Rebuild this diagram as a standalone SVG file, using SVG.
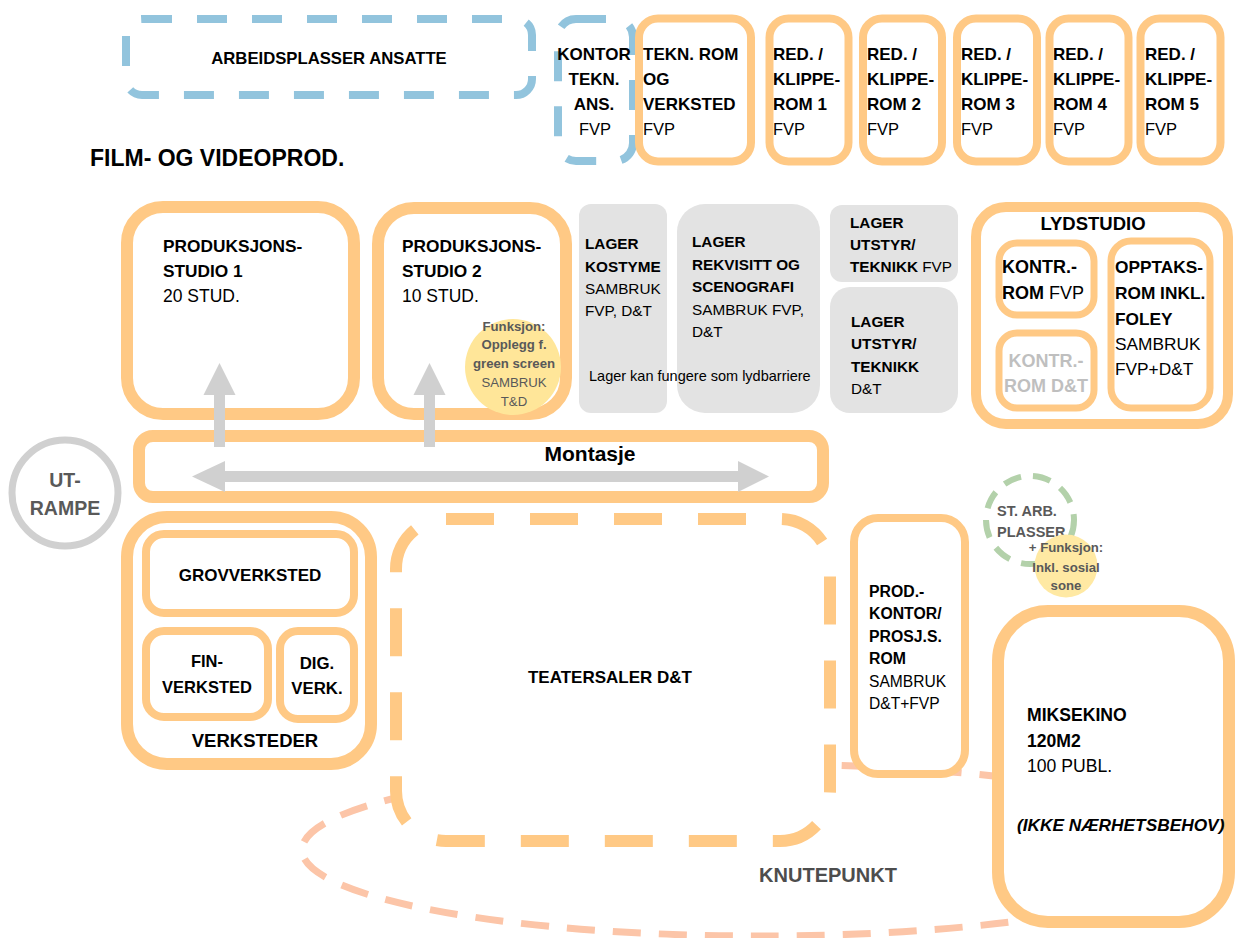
<svg xmlns="http://www.w3.org/2000/svg" width="1241" height="938" viewBox="0 0 1241 938">
<style>
text { font-family: "Liberation Sans", Arial, sans-serif; fill: #000; }
.b { font-weight: bold; }
.r { font-weight: normal; }
.or { fill: #fff; stroke: #ffc985; }
.o8 { stroke-width: 8; }
.o12 { stroke-width: 12; }
.o10 { stroke-width: 10; }
.o7 { stroke-width: 7; }
.blue { fill: #fff; stroke: #92c4dd; stroke-width: 8; stroke-dasharray: 30 25; }
.lager { fill: #e3e3e3; stroke: none; }
.gray { fill: #595959; }
.arr { fill: #d0d0d0; }
.s17 { font-size: 17px; }
.s16 { font-size: 16.5px; }
.s15 { font-size: 15.3px; }
.s13 { font-size: 13.2px; }
</style>

<g id="knutepunkt">
  <ellipse cx="760" cy="850" rx="458" ry="86" fill="none" stroke="#fcc5a8" stroke-width="7" stroke-dasharray="28 18"/>
  <text x="828" y="882" class="b" font-size="20" text-anchor="middle" style="fill:#4d4d4d">KNUTEPUNKT</text>
</g>

<g id="tittel">
  <text x="90" y="166" class="b" font-size="23">FILM- OG VIDEOPROD.</text>
</g>

<g id="arbeidsplasser">
  <rect x="126" y="19" width="406" height="76" rx="16" class="blue"/>
  <text x="329" y="64" class="b" font-size="16.7" text-anchor="middle">ARBEIDSPLASSER ANSATTE</text>
</g>

<g id="kontor-tekn">
  <rect x="558" y="19" width="75" height="142" rx="18" class="blue"/>
  <text class="b s17" text-anchor="middle"><tspan x="594" y="60">KONTOR</tspan><tspan x="594" y="85">TEKN.</tspan><tspan x="594" y="110">ANS.</tspan></text>
  <text x="595" y="135" class="r s16" text-anchor="middle">FVP</text>
</g>

<g id="tekn-rom">
  <rect x="639" y="18.5" width="112" height="143" rx="19" class="or o8"/>
  <text class="b s17"><tspan x="643" y="60">TEKN. ROM</tspan><tspan x="643" y="85">OG</tspan><tspan x="643" y="110">VERKSTED</tspan></text>
  <text x="643" y="135" class="r s16">FVP</text>
</g>

<g id="klipperom-1">
  <rect x="769.5" y="18.5" width="79" height="143" rx="19" class="or o8"/>
  <text class="b s17"><tspan x="773" y="60">RED. /</tspan><tspan x="773" y="85">KLIPPE-</tspan><tspan x="773" y="110">ROM 1</tspan></text>
  <text x="773" y="135" class="r s16">FVP</text>
</g>
<g id="klipperom-2">
  <rect x="863" y="18.5" width="79" height="143" rx="19" class="or o8"/>
  <text class="b s17"><tspan x="867" y="60">RED. /</tspan><tspan x="867" y="85">KLIPPE-</tspan><tspan x="867" y="110">ROM 2</tspan></text>
  <text x="867" y="135" class="r s16">FVP</text>
</g>
<g id="klipperom-3">
  <rect x="957" y="18.5" width="80" height="143" rx="19" class="or o8"/>
  <text class="b s17"><tspan x="961" y="60">RED. /</tspan><tspan x="961" y="85">KLIPPE-</tspan><tspan x="961" y="110">ROM 3</tspan></text>
  <text x="961" y="135" class="r s16">FVP</text>
</g>
<g id="klipperom-4">
  <rect x="1049.5" y="18.5" width="79" height="143" rx="19" class="or o8"/>
  <text class="b s17"><tspan x="1053" y="60">RED. /</tspan><tspan x="1053" y="85">KLIPPE-</tspan><tspan x="1053" y="110">ROM 4</tspan></text>
  <text x="1053" y="135" class="r s16">FVP</text>
</g>
<g id="klipperom-5">
  <rect x="1140.5" y="18.5" width="80" height="143" rx="19" class="or o8"/>
  <text class="b s17"><tspan x="1145" y="60">RED. /</tspan><tspan x="1145" y="85">KLIPPE-</tspan><tspan x="1145" y="110">ROM 5</tspan></text>
  <text x="1145" y="135" class="r s16">FVP</text>
</g>

<g id="studio-1">
  <rect x="127" y="207" width="227" height="207" rx="36" class="or o12"/>
  <text class="b" font-size="17.3"><tspan x="163" y="252">PRODUKSJONS-</tspan><tspan x="163" y="277">STUDIO 1</tspan></text>
  <text x="163" y="302" class="r" font-size="17.5">20 STUD.</text>
</g>

<g id="studio-2">
  <rect x="378" y="208" width="188" height="206" rx="36" class="or o12"/>
  <text class="b" font-size="17.3"><tspan x="402" y="252">PRODUKSJONS-</tspan><tspan x="402" y="277">STUDIO 2</tspan></text>
  <text x="402" y="302" class="r" font-size="17.5">10 STUD.</text>
</g>

<g id="funksjon-greenscreen">
  <circle cx="513" cy="367" r="48" fill="#ffe699"/>
  <text class="b s13 gray" text-anchor="middle"><tspan x="514" y="331">Funksjon:</tspan><tspan x="514" y="349">Opplegg f.</tspan><tspan x="514" y="368">green screen</tspan></text>
  <text class="r s13 gray" text-anchor="middle"><tspan x="514" y="387">SAMBRUK</tspan><tspan x="514" y="406">T&amp;D</tspan></text>
</g>

<g id="lager-kostyme">
  <rect x="579" y="204" width="88" height="209" rx="12" class="lager"/>
  <text class="b s15"><tspan x="585" y="249">LAGER</tspan><tspan x="585" y="272">KOSTYME</tspan></text>
  <text class="r s15"><tspan x="585" y="294">SAMBRUK</tspan><tspan x="585" y="316">FVP, D&amp;T</tspan></text>
</g>

<g id="lager-rekvisitt">
  <rect x="677" y="204" width="143" height="209" rx="28" class="lager"/>
  <text class="b s15"><tspan x="692" y="247">LAGER</tspan><tspan x="692" y="269.5">REKVISITT OG</tspan><tspan x="692" y="292">SCENOGRAFI</tspan></text>
  <text class="r s15"><tspan x="692" y="314.5">SAMBRUK FVP,</tspan><tspan x="692" y="337">D&amp;T</tspan></text>
</g>

<g id="lager-note">
  <text x="589" y="381" class="r" font-size="14.5">Lager kan fungere som lydbarriere</text>
</g>

<g id="lager-utstyr-fvp">
  <rect x="830" y="205" width="128" height="77" rx="12" class="lager"/>
  <text class="b s15"><tspan x="850" y="228">LAGER</tspan><tspan x="850" y="250">UTSTYR/</tspan><tspan x="850" y="272">TEKNIKK<tspan class="r"> FVP</tspan></tspan></text>
</g>

<g id="lager-utstyr-dt">
  <rect x="830" y="287" width="128" height="126" rx="20" class="lager"/>
  <text class="b s15"><tspan x="851" y="327">LAGER</tspan><tspan x="851" y="349">UTSTYR/</tspan><tspan x="851" y="372">TEKNIKK</tspan></text>
  <text x="851" y="394" class="r s15">D&amp;T</text>
</g>

<g id="lydstudio">
  <rect x="976" y="207" width="252" height="217" rx="30" class="or o10"/>
  <text x="1093" y="230" class="b" font-size="18.5" text-anchor="middle">LYDSTUDIO</text>
</g>

<g id="kontrollrom-fvp">
  <rect x="999" y="243" width="95" height="72" rx="18" class="or o7"/>
  <text class="b" font-size="18"><tspan x="1002" y="273">KONTR.-</tspan><tspan x="1002" y="299">ROM<tspan class="r"> FVP</tspan></tspan></text>
</g>

<g id="kontrollrom-dt">
  <rect x="999" y="333" width="95" height="75" rx="18" class="or o7"/>
  <text class="b" font-size="18" text-anchor="middle" style="fill:#bfbfbf"><tspan x="1046" y="367">KONTR.-</tspan><tspan x="1046" y="392">ROM D&amp;T</tspan></text>
</g>

<g id="opptaksrom">
  <rect x="1111" y="241" width="99" height="167" rx="20" class="or o7"/>
  <text class="b" font-size="17.3"><tspan x="1115" y="273">OPPTAKS-</tspan><tspan x="1115" y="299">ROM INKL.</tspan><tspan x="1115" y="325">FOLEY</tspan></text>
  <text class="r" font-size="17.3"><tspan x="1115" y="350">SAMBRUK</tspan><tspan x="1115" y="375">FVP+D&amp;T</tspan></text>
</g>

<g id="montasje">
  <rect x="139" y="436" width="684" height="61" rx="14" class="or o12"/>
  <text x="590" y="461" class="b" font-size="21" text-anchor="middle">Montasje</text>
</g>

<g id="ut-rampe">
  <circle cx="65" cy="493" r="53" fill="#fff" stroke="#d0d0d0" stroke-width="7"/>
  <text class="b gray" font-size="19.5" text-anchor="middle"><tspan x="65" y="487">UT-</tspan><tspan x="65" y="515">RAMPE</tspan></text>
</g>

<g id="verksteder">
  <rect x="127" y="517" width="244" height="247" rx="40" class="or o12"/>
  <text x="255" y="747" class="b" font-size="18.5" text-anchor="middle">VERKSTEDER</text>
</g>
<g id="grovverksted">
  <rect x="146" y="534" width="208" height="79" rx="18" class="or o8"/>
  <text x="250" y="581" class="b s17" text-anchor="middle">GROVVERKSTED</text>
</g>
<g id="finverksted">
  <rect x="146" y="631" width="122" height="86" rx="18" class="or o8"/>
  <text class="b" font-size="16.5" text-anchor="middle"><tspan x="207" y="667">FIN-</tspan><tspan x="207" y="693">VERKSTED</tspan></text>
</g>
<g id="digverksted">
  <rect x="280" y="631" width="74" height="88" rx="18" class="or o8"/>
  <text class="b" font-size="16.8" text-anchor="middle"><tspan x="317" y="669">DIG.</tspan><tspan x="317" y="694">VERK.</tspan></text>
</g>

<g id="teatersaler">
  <rect x="396" y="519" width="434" height="322" rx="50" fill="#fff" stroke="#ffc985" stroke-width="12" stroke-dasharray="48 36"/>
  <text x="610" y="683" class="b s17" text-anchor="middle">TEATERSALER D&amp;T</text>
</g>

<g id="prodkontor">
  <rect x="854" y="518" width="111" height="256" rx="24" class="or o8"/>
  <text class="b" font-size="15.8"><tspan x="869" y="597">PROD.-</tspan><tspan x="869" y="619">KONTOR/</tspan><tspan x="869" y="642">PROSJ.S.</tspan><tspan x="869" y="664">ROM</tspan></text>
  <text class="r" font-size="15.6"><tspan x="869" y="687">SAMBRUK</tspan><tspan x="869" y="709">D&amp;T+FVP</tspan></text>
</g>

<g id="st-arb-plasser">
  <circle cx="1030" cy="520" r="44" fill="none" stroke="#b3d1aa" stroke-width="6" stroke-dasharray="18 12"/>
  <text class="b gray" font-size="14.5"><tspan x="997" y="516">ST. ARB.</tspan><tspan x="997" y="537">PLASSER</tspan></text>
</g>

<g id="funksjon-sosial">
  <circle cx="1066" cy="566" r="31.5" fill="#ffe9a3"/>
  <text class="b s13 gray" text-anchor="middle"><tspan x="1066" y="552">+ Funksjon:</tspan><tspan x="1066" y="572">Inkl. sosial</tspan><tspan x="1066" y="590">sone</tspan></text>
</g>

<g id="miksekino">
  <rect x="998" y="611" width="231" height="311" rx="50" class="or o12"/>
  <text class="b" font-size="17.6"><tspan x="1027" y="721">MIKSEKINO</tspan><tspan x="1027" y="747">120M2</tspan></text>
  <text x="1027" y="772" class="r" font-size="17.6">100 PUBL.</text>
  <text x="1017" y="831" class="b" font-size="17.3" font-style="italic">(IKKE NÆRHETSBEHOV)</text>
</g>

<g id="connectors">
  <rect x="214" y="393" width="11" height="54" class="arr"/>
  <polygon points="219.5,363 235.5,395 203.5,395" class="arr"/>
  <rect x="424" y="393" width="11" height="54" class="arr"/>
  <polygon points="429.5,363 445.5,395 413.5,395" class="arr"/>
  <rect x="224" y="471" width="515" height="11" class="arr"/>
  <polygon points="192,476.5 225,461 225,492" class="arr"/>
  <polygon points="769,476.5 738,461 738,492" class="arr"/>
</g>
</svg>
